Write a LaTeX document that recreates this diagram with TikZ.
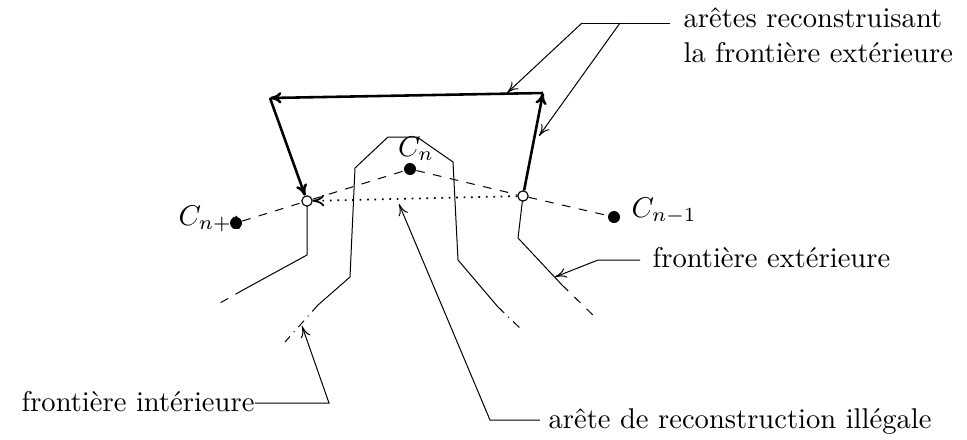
\documentclass[tikz,border=0pt]{standalone}
\usetikzlibrary{arrows.meta}
\begin{document}
\begin{tikzpicture}[x=0.35pt,y=-0.35pt,
  thin line/.style={line width=0.35pt},
  thickedge/.style={line width=0.9pt,-{To[length=4pt,width=4pt]}},
  pointer/.style={line width=0.35pt,-{To[length=4pt,width=3.5pt]}},
  opendot/.style={circle,draw,fill=white,inner sep=0pt,minimum size=3.6pt,line width=0.4pt},
  fulldot/.style={circle,fill=black,inner sep=0pt,minimum size=4.2pt},
  lbl/.style={inner sep=0pt,font=\normalsize}]
\useasboundingbox (0,0) rectangle (967,439);

% boundary polylines
\draw[thin line] (307,201) -- (307,255) coordinate (lo1) -- (243,290) coordinate (lo2);
\draw[thin line,dashed] (lo2) -- (220,303) coordinate (lo3);
\draw[thin line] (318,305) coordinate (li1) -- (350,277) -- (355,168) -- (388,137) -- (417,137) -- (453,162) -- (458,260) -- (498,307) coordinate (ri1);
\draw[thin line,dash dot] (li1) -- (285,342) coordinate (li0);
\draw[thin line,dash dot] (ri1) -- (523,331) coordinate (ri2);
\draw[thin line] (523,196) -- (518,238) coordinate (ro1) -- (562,285) coordinate (ro2);
\draw[thin line,dashed] (ro2) -- (598,320) coordinate (ro3);

% points
\node[opendot] (L) at (307,201) {};
\node[opendot] (R) at (523,196) {};
\node[fulldot] (Cn) at (410,169) {};
\node[fulldot] (Cm) at (614,217) {};
\node[lbl,anchor=east] (lCp) at (244,219) {$C_{n+1}$};
\node[fulldot] (Cp) at (236,223) {};
\node[lbl] (lCn) at (416,149) {$C_n$};
\node[lbl,anchor=west] (lCm) at (631,211) {$C_{n-1}$};

% dashed chain
\draw[thin line,dashed] (Cp) -- (L) -- (Cn) -- (R) -- (Cm);
% illegal edge
\draw[line width=0.6pt,dotted,-{To[length=4pt,width=4pt]}] (R) -- (L);

% reconstruction edges
\coordinate (A) at (543,93);
\coordinate (B) at (270,98);
\draw[thickedge] (R) -- (A);
\draw[thickedge] (A) -- (B);
\draw[thickedge] (B) -- (L);

% annotations
\node[lbl,anchor=base west,align=left] (tRec) at (683,62) {arêtes reconstruisant\\la frontière extérieure};
\coordinate (h1) at (582,23);
\coordinate (h2) at (620,23);
\coordinate (h3) at (670,23);
\coordinate (p1) at (507,93);
\coordinate (p2) at (539,136);
\draw[thin line] (h1) -- (h3);
\draw[pointer] (h1) -- (p1);
\draw[pointer] (h2) -- (p2);

\node[lbl,anchor=base west] (tExt) at (652,267) {frontière extérieure};
\coordinate (e1) at (640,260);
\coordinate (e2) at (598,260);
\coordinate (e3) at (555,277);
\draw[pointer] (e1) -- (e2) -- (e3);

\node[lbl,anchor=base east] (tInt) at (255,411) {frontière intérieure};
\coordinate (i1) at (329,403);
\coordinate (i2) at (302,326);
\draw[pointer] (tInt.east |- i1) -- (i1) -- (i2);

\node[lbl,anchor=base west] (tIll) at (548,428) {arête de reconstruction illégale};
\coordinate (g1) at (540,420);
\coordinate (g2) at (490,420);
\coordinate (g3) at (399,204);
\draw[pointer] (g1) -- (g2) -- (g3);
\end{tikzpicture}
\end{document}
